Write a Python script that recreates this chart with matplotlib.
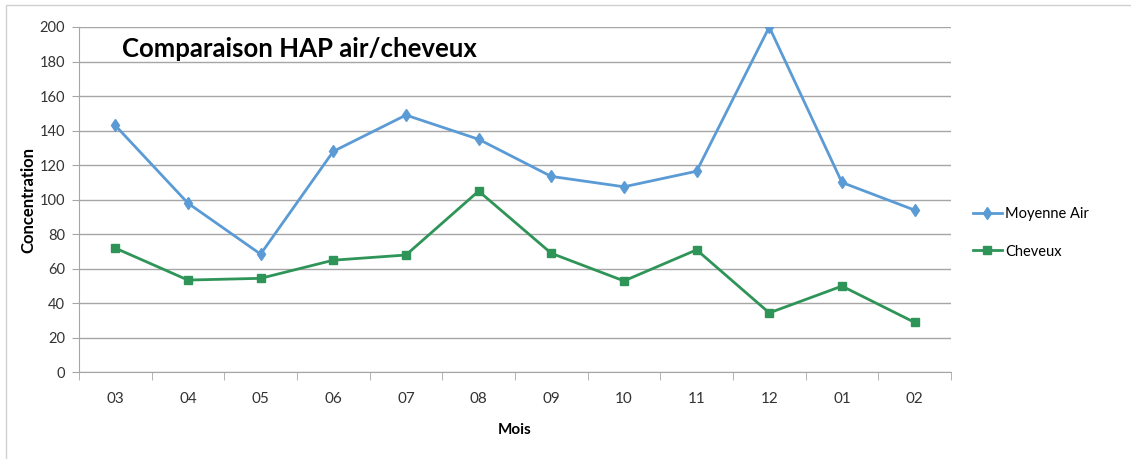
import matplotlib.pyplot as plt
from matplotlib.patches import Rectangle

# Data
mois = ["03", "04", "05", "06", "07", "08", "09", "10", "11", "12", "01", "02"]
moyenne_air = [143, 98, 68.5, 128, 149, 135, 113.5, 107.5, 116.5, 200, 110, 94]
cheveux = [72, 53.5, 54.5, 65, 68, 105, 69, 53, 71, 34.5, 50, 29]

blue = "#5B9BD5"
green = "#2E9457"
grid_c = "#A6A6A6"

plt.rcParams["font.family"] = ["Lato", "DejaVu Sans"]

fig = plt.figure(figsize=(11.31, 4.59), dpi=100)
ax = fig.add_axes([0.0698, 0.1885, 0.7710, 0.7527])

x = list(range(len(mois)))
ax.plot(x, moyenne_air, color=blue, linewidth=2, marker="d", markersize=6,
        label="Moyenne Air")
ax.plot(x, cheveux, color=green, linewidth=2, marker="s", markersize=6,
        label="Cheveux")

ax.set_xlim(-0.5, len(mois) - 0.5)
ax.set_ylim(0, 200)
ax.set_yticks(range(0, 201, 20))
ax.set_xticks(x)
ax.set_xticklabels(mois)
ax.set_xticks([i - 0.5 for i in range(len(mois) + 1)], minor=True)
ax.tick_params(axis="x", which="major", length=0, pad=14, labelsize=11, colors="#333333")
ax.tick_params(axis="x", which="minor", length=6, color=grid_c, direction="out")
ax.tick_params(axis="y", length=5, color=grid_c, pad=5, labelsize=10.5, labelcolor="#333333")

ax.grid(axis="y", color=grid_c, linewidth=1)
ax.set_axisbelow(True)
for side in ["top", "right"]:
    ax.spines[side].set_visible(False)
ax.spines["left"].set_color(grid_c)
ax.spines["bottom"].set_color(grid_c)

ax.set_xlabel("Mois", fontsize=11, fontweight="bold", labelpad=12)
ax.set_ylabel("Concentration", fontsize=12, fontweight="bold")
ax.yaxis.set_label_coords(-0.049, 0.5)

ax.text(0.049, 0.9145, "Comparaison HAP air/cheveux", transform=ax.transAxes,
        fontsize=18.5, fontweight="bold", va="baseline", ha="left")

ax.legend(loc="center left", bbox_to_anchor=(1.01, 0.404), frameon=False,
          fontsize=10.5, handlelength=2.0, handletextpad=0.2, labelspacing=1.6)

# chart frame (top and left edges visible, the rest runs off the picture)
fig.patches.append(Rectangle((0.005, -0.1), 1.1, 1.089, transform=fig.transFigure,
                             fill=False, edgecolor="#D0D0D0", linewidth=1))

plt.savefig("out.png", dpi=100)
